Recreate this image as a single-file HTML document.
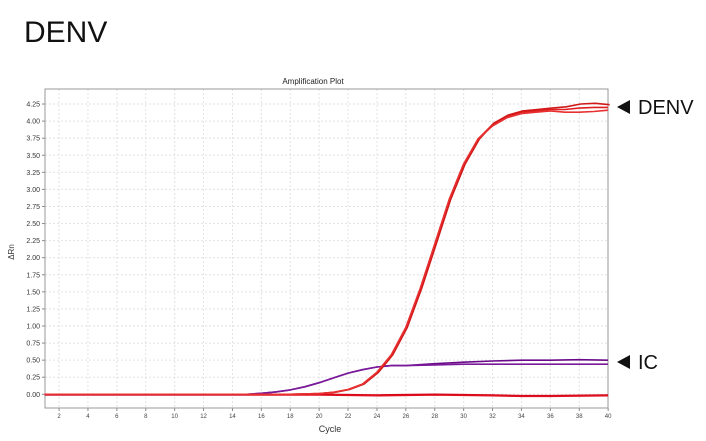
<!DOCTYPE html>
<html><head><meta charset="utf-8"><style>
body{margin:0;background:#fff;width:706px;height:441px;overflow:hidden}
svg{display:block;font-family:"Liberation Sans",sans-serif}
</style></head><body>
<svg id="s" width="706" height="441" xmlns="http://www.w3.org/2000/svg">
<text x="24" y="42" font-size="30" fill="#111" font-family="Liberation Sans, sans-serif">DENV</text>
<text x="313" y="84" font-size="8" text-anchor="middle" fill="#222">Amplification Plot</text>
<text x="330" y="432" font-size="9" text-anchor="middle" fill="#333">Cycle</text>
<text transform="translate(14,252) rotate(-90)" font-size="8" text-anchor="middle" fill="#333">ΔRn</text>
<g id="grid"></g>
<rect x="45" y="89" width="563" height="319" fill="none" stroke="#999" stroke-width="1"/>
<g id="curves" fill="none" stroke-width="1.6" stroke-linejoin="round"></g>
<polygon points="617,107 630,100 630,114" fill="#111"/>
<text x="638" y="114" font-size="20" fill="#111">DENV</text>
<polygon points="617,362 630,355 630,369" fill="#111"/>
<text x="638" y="369" font-size="20" fill="#111">IC</text>
</svg>
<script>
const X=c=>44.6+(c-1)*14.45, Y=v=>394.3-v*68.3;
let g='';
for(let c=2;c<=40;c+=2){const x=X(c);g+=`<line x1="${x}" y1="89" x2="${x}" y2="408" stroke="#e2e2e2" stroke-dasharray="2,2"/><line x1="${x}" y1="408" x2="${x}" y2="411" stroke="#888"/><text x="${x}" y="418" font-size="6" text-anchor="middle" fill="#444">${c}</text>`;}
for(let i=0;i<=17;i++){const v=i*0.25,y=Y(v);g+=`<line x1="45" y1="${y}" x2="608" y2="${y}" stroke="#e2e2e2" stroke-dasharray="2,2"/><line x1="42" y1="${y}" x2="45" y2="${y}" stroke="#888"/><text x="40" y="${y+2.5}" font-size="7" text-anchor="end" fill="#333">${v.toFixed(2)}</text>`;}
document.getElementById('grid').innerHTML=g;
function path(pts,col){return `<polyline stroke="${col}" points="${pts.map(p=>X(p[0]).toFixed(1)+','+Y(p[1]).toFixed(1)).join(' ')}"/>`;}
const base=[[1,0],[15,0]];
const denv=(d,s)=>[...base,[18,0],[20,0.01],[21,0.03],[22,0.07],[23,0.15],[24,0.32],[25,0.58],[26,0.98],[27,1.55],[28,2.2],[29,2.85],[30,3.37],[31,3.74],[32,3.95+d],[33,4.07+d],[34,4.13+d],[35,4.15+d],[36,4.17+d],[37,4.17+d*2],[38,4.19+d*3],[39,4.2+d*3],[40,4.2+d*2]];
const ic=(k)=>[...base,[16,0.015],[17,0.035],[18,0.065],[19,0.11],[20,0.17],[21,0.24],[22,0.31],[23,0.36],[24,0.4],[25,0.42],[26,0.42],[28,0.43+k*0.3],[30,0.44+k*0.5],[32,0.44+k*0.8],[34,0.44+k],[36,0.44+k],[38,0.44+k*1.1],[40,0.44+k]];
const flat=[[1,0],[20,0],[24,-0.01],[28,0],[32,-0.01],[34,-0.02],[36,-0.02],[40,-0.01]];
let c='';
c+=path(flat,'#d00010');c+=path(flat.map(p=>[p[0],p[1]-0.01]),'#e01020');
c+=path(ic(0.06),'#6a0a8a');c+=path(ic(0.0),'#7a1a9a');
c+=path(denv(0,0),'#e02020');c+=path(denv(0.02,0).map(p=>[p[0]+0.1,p[1]]),'#d01818');c+=path(denv(-0.02,0),'#e83030');
document.getElementById('curves').innerHTML=c;
</script>
</body></html>
